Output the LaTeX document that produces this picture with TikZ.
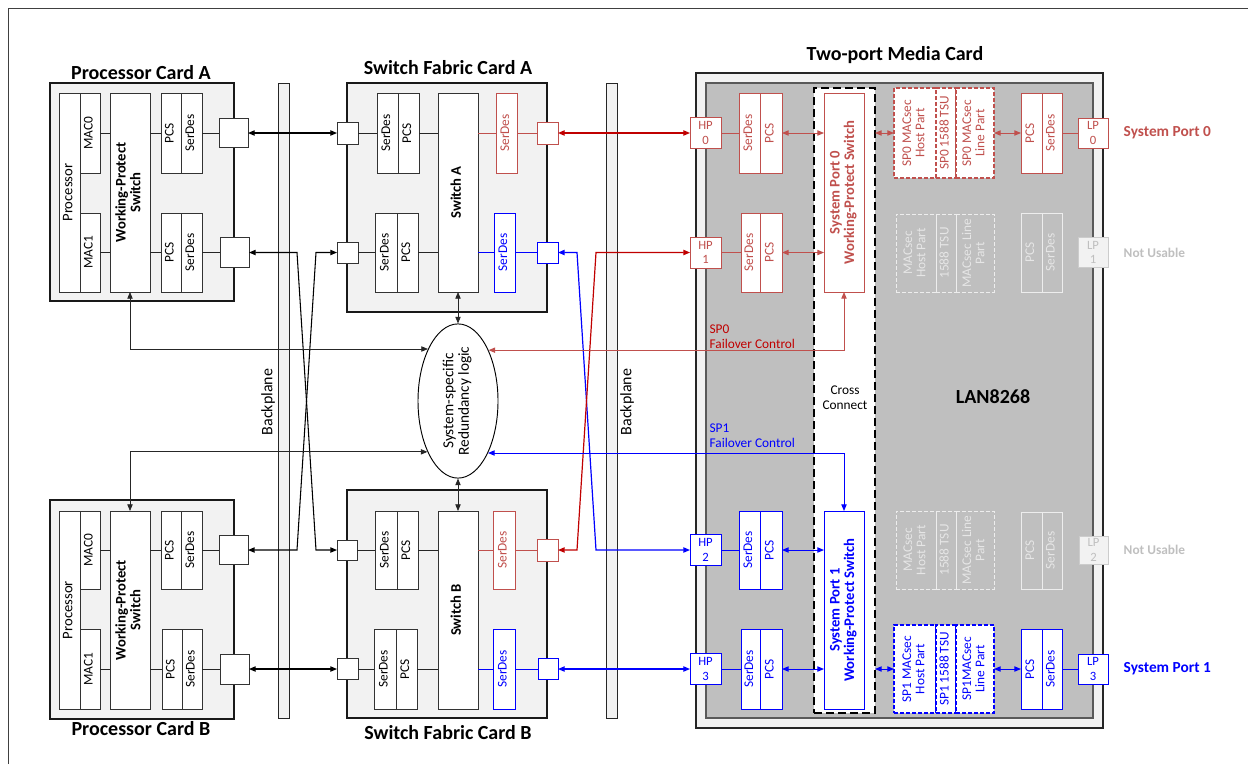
\documentclass[tikz,border=0pt]{standalone}
\usepackage{fontspec}
\setmainfont{Carlito}
\usetikzlibrary{arrows.meta,shapes.geometric}
\definecolor{rA}{HTML}{C00000}
\definecolor{rB}{HTML}{C0504D}
\definecolor{bA}{HTML}{0000FF}
\definecolor{lf}{HTML}{F2F2F2}
\definecolor{chip}{HTML}{BFBFBF}
\definecolor{ghost}{HTML}{EDEDED}
\definecolor{ghtxt}{HTML}{E6E6E6}
\renewcommand{\arraystretch}{0.9}
\newcommand{\vtext}[1]{\rotatebox{90}{\begin{tabular}{@{}c@{}}#1\end{tabular}}}
\newcommand{\mybox}[7][]{\node[inner sep=0pt,outer sep=0pt,bx,#1,minimum width={(#5-#3)*0.75pt},minimum height={(#6-#4)*0.75pt}] (#2) at ({(#3+#5)/2},{(#4+#6)/2}) {#7};}
\tikzset{
 bx/.style={draw=black!80, fill=white, line width=0.6pt, align=center, text=black},
 card/.style={draw=black!90, fill=lf, line width=1pt},
 wps/.style={font=\bfseries\fontsize{11}{12}\selectfont},
 rbx/.style={draw=rB, text=rB},
 bbx/.style={draw=bA, text=bA},
 port/.style={font=\fontsize{9.5}{11}\selectfont},
 rdash/.style={draw=rB, text=rB, dash pattern=on 3pt off 1.5pt, line width=0.9pt},
 bdash/.style={draw=bA, text=bA, dash pattern=on 3pt off 1.5pt, line width=0.9pt},
 ghd/.style={draw=ghost, text=ghtxt, fill=none, dash pattern=on 3pt off 1.5pt},
 ghs/.style={draw=ghost, text=ghtxt, fill=none},
 ghp/.style={draw=black!20, fill=lf, text=chip, font=\fontsize{9.5}{11}\selectfont},
 bpl/.style={draw=black!85, fill=lf, line width=0.7pt},
 mcard/.style={draw=black!85, fill=lf, line width=1.2pt},
 chipst/.style={draw=black!65, fill=chip, line width=0.9pt},
 ccst/.style={draw=black, fill=white, line width=2.2pt, dash pattern=on 6pt off 3pt},
 title/.style={font=\bfseries\fontsize{15}{17}\selectfont},
 proc/.style={font=\fontsize{11}{12}\selectfont},
 ln/.style={draw=black!85, line width=0.6pt},
 kl/.style={draw=black, line width=0.8pt},
 rl/.style={draw=rA, line width=0.9pt},
 bl/.style={draw=bA, line width=0.9pt},
 rl2/.style={draw=rB, line width=0.7pt},
 bl2/.style={draw=bA, line width=0.7pt},
}
\begin{document}
\begin{tikzpicture}[x=0.75pt,y=-0.75pt,>={Triangle[length=5pt,width=4pt]},font=\fontsize{10}{11}\selectfont]
\useasboundingbox (0,0) rectangle (1248,764);
\draw[black!75, line width=0.6pt] (8,764) -- (8,8) -- (1248,8);

% ---------- titles
\node[title] (tPA) at (141,73) {Processor Card A};
\node[title] (tSA) at (448,68) {Switch Fabric Card A};
\node[title] (tMC) at (895,55) {Two-port Media Card};
\node[title] (tPB) at (141,729) {Processor Card B};
\node[title] (tSB) at (448,733) {Switch Fabric Card B};

% ---------- backplanes
\mybox[bpl]{bp1}{278}{83}{289}{718}{}
\mybox[bpl]{bp2}{606}{83}{617}{718}{}
\node[rotate=90, font=\fontsize{12}{14}\selectfont] (bl1) at (268,402) {Backplane};
\node[rotate=90, font=\fontsize{12}{14}\selectfont] (bl2) at (627,402) {Backplane};

% ---------- Processor Card A
\mybox[card]{cardA}{50}{83}{234}{301}{}
\mybox[proc]{procA}{59}{93}{80}{292}{\vtext{Processor}}
\mybox{macA0}{80}{93}{100}{173}{\vtext{MAC0}}
\mybox{macA1}{80}{213}{100}{292}{\vtext{MAC1}}
\mybox[wps]{wpsA}{110}{93}{150}{292}{\vtext{Working-Protect\\Switch}}
\mybox{pcsA0}{161}{93}{181}{173}{\vtext{PCS}}
\mybox{serA0}{181}{93}{202}{173}{\vtext{SerDes}}
\mybox{pcsA1}{161}{213}{181}{292}{\vtext{PCS}}
\mybox{serA1}{181}{213}{202}{292}{\vtext{SerDes}}
\mybox{pA0}{219}{118.5}{248}{147.5}{}
\mybox{pA1}{220}{237.5}{249}{267.5}{}
\draw[ln] (macA0.east) -- (wpsA.west |- macA0.east);
\draw[ln] (wpsA.east |- pcsA0.west) -- (pcsA0.west);
\draw[ln] (serA0.east) -- (pA0.west);
\draw[ln] (macA1.east) -- (wpsA.west |- macA1.east);
\draw[ln] (wpsA.east |- pcsA1.west) -- (pcsA1.west);
\draw[ln] (serA1.east) -- (pA1.west);

% ---------- Processor Card B
\mybox[card]{cardB}{50}{500}{234}{719}{}
\mybox[proc]{procB}{59}{511}{80}{709}{\vtext{Processor}}
\mybox{macB0}{80}{511}{100}{589}{\vtext{MAC0}}
\mybox{macB1}{80}{629}{100}{709}{\vtext{MAC1}}
\mybox[wps]{wpsB}{110}{511}{150}{709}{\vtext{Working-Protect\\Switch}}
\mybox{pcsB0}{161}{511}{181}{589}{\vtext{PCS}}
\mybox{serB0}{181}{511}{202}{589}{\vtext{SerDes}}
\mybox{pcsB1}{162}{629}{182}{709}{\vtext{PCS}}
\mybox{serB1}{182}{629}{202}{709}{\vtext{SerDes}}
\mybox{pB0}{219}{535.5}{248}{564.5}{}
\mybox{pB1}{220}{654}{249}{684}{}
\draw[ln] (macB0.east) -- (wpsB.west |- macB0.east);
\draw[ln] (wpsB.east |- pcsB0.west) -- (pcsB0.west);
\draw[ln] (serB0.east) -- (pB0.west);
\draw[ln] (macB1.east) -- (wpsB.west |- macB1.east);
\draw[ln] (wpsB.east |- pcsB1.west) -- (pcsB1.west);
\draw[ln] (serB1.east) -- (pB1.west);

% ---------- Switch Fabric Card A
\mybox[card]{sfA}{347}{83}{547}{312}{}
\mybox{qA0}{337}{122}{358}{144}{}
\mybox{qA1}{337}{242}{358}{263}{}
\mybox{sdA0}{377}{93}{398}{173}{\vtext{SerDes}}
\mybox{pcA0}{398}{93}{419}{173}{\vtext{PCS}}
\mybox{sdA1}{375}{213}{397}{292}{\vtext{SerDes}}
\mybox{pcA1}{397}{213}{418}{292}{\vtext{PCS}}
\mybox[font=\bfseries\fontsize{11}{12}\selectfont]{swA}{438}{93}{478}{292}{\vtext{Switch A}}
\mybox[rbx]{rsA}{496}{93}{517}{173}{\vtext{SerDes}}
\mybox[rbx]{rpA}{537}{122}{558}{144}{}
\mybox[bbx]{bsA}{494}{213}{515}{292}{\vtext{SerDes}}
\mybox[bbx]{bpA}{537}{242}{558}{263}{}
\draw[ln] (qA0.east) -- (sdA0.west |- qA0.east);
\draw[ln] (pcA0.east) -- (swA.west |- pcA0.east);
\draw[ln] (qA1.east) -- (sdA1.west |- qA1.east);
\draw[ln] (pcA1.east) -- (swA.west |- pcA1.east);
\draw[rl2] (swA.east |- rsA.west) -- (rsA.west);
\draw[rl2] (rsA.east) -- (rpA.west);
\draw[bl2] (swA.east |- bsA.west) -- (bsA.west);
\draw[bl2] (bsA.east) -- (bpA.west);

% ---------- Switch Fabric Card B
\mybox[card]{sfB}{347}{490}{547}{718}{}
\mybox{qB0}{337}{540}{357}{560}{}
\mybox{qB1}{337}{658.5}{358}{679.5}{}
\mybox{sdB0}{375}{511}{397}{589}{\vtext{SerDes}}
\mybox{pcB0}{397}{511}{418}{589}{\vtext{PCS}}
\mybox{sdB1}{374}{629}{396}{709}{\vtext{SerDes}}
\mybox{pcB1}{396}{629}{417}{709}{\vtext{PCS}}
\mybox[font=\bfseries\fontsize{11}{12}\selectfont]{swB}{438}{511}{478}{709}{\vtext{Switch B}}
\mybox[rbx]{rsB}{493}{511}{515}{589}{\vtext{SerDes}}
\mybox[rbx]{rpB}{537}{539}{558}{561}{}
\mybox[bbx]{bsB}{493}{629}{515}{709}{\vtext{SerDes}}
\mybox[bbx]{bpB}{538}{658.5}{558}{679.5}{}
\draw[ln] (qB0.east) -- (sdB0.west |- qB0.east);
\draw[ln] (pcB0.east) -- (swB.west |- pcB0.east);
\draw[ln] (qB1.east) -- (sdB1.west |- qB1.east);
\draw[ln] (pcB1.east) -- (swB.west |- pcB1.east);
\draw[rl2] (swB.east |- rsB.west) -- (rsB.west);
\draw[rl2] (rsB.east) -- (rpB.west);
\draw[bl2] (swB.east |- bsB.west) -- (bsB.west);
\draw[bl2] (bsB.east) -- (bpB.west);

% ---------- redundancy logic
\node[ellipse, draw=black, fill=white, line width=0.7pt, minimum width=60pt, minimum height=111pt, inner sep=0pt, font=\fontsize{11.5}{13}\selectfont] (ell) at (458,401) {\vtext{System-specific\\Redundancy logic}};
\draw[ln,<->] (swA.south) -- (ell.north);
\draw[ln,<->] (ell.south) -- (swB.north);

% ---------- Media card
\mybox[mcard]{mc}{696}{73}{1103}{728}{}
\mybox[chipst]{chipb}{706}{83}{1093}{718}{}
\mybox[ccst]{cc}{814}{88}{875}{713}{}
\node[align=center] (ccl) at (845,398) {Cross\\Connect};
\node[font=\bfseries\fontsize{15}{17}\selectfont] (lan) at (993,397) {LAN8268};

\mybox[rbx,port]{hp0}{690}{117.5}{721}{148.5}{HP\\0}
\mybox[rbx,port]{hp1}{690}{237}{721}{268}{HP\\1}
\mybox[bbx,port]{hp2}{690}{534.5}{721}{565.5}{HP\\2}
\mybox[bbx,port]{hp3}{690}{653.5}{721}{684.5}{HP\\3}
\mybox[rbx]{sd0}{739}{93}{760}{173}{\vtext{SerDes}}
\mybox[rbx]{pc0}{760}{93}{782}{173}{\vtext{PCS}}
\mybox[rbx]{sd1}{741}{213}{760}{292}{\vtext{SerDes}}
\mybox[rbx]{pc1}{760}{213}{782}{292}{\vtext{PCS}}
\mybox[bbx]{sd2}{739}{511}{760}{589}{\vtext{SerDes}}
\mybox[bbx]{pc2}{760}{511}{782}{589}{\vtext{PCS}}
\mybox[bbx]{sd3}{741}{629}{760}{709}{\vtext{SerDes}}
\mybox[bbx]{pc3}{760}{629}{782}{709}{\vtext{PCS}}
\mybox[rbx,wps]{spw0}{824}{93}{864}{292}{\vtext{System Port 0\\Working-Protect Switch}}
\mybox[bbx,wps]{spw1}{824}{511}{864}{709}{\vtext{System Port 1\\Working-Protect Switch}}

\mybox[rdash]{m0h}{894}{88}{936}{178}{\vtext{SP0 MACsec\\Host Part}}
\mybox[rdash]{m0t}{936}{88}{956}{178}{\vtext{SP0 1588 TSU}}
\mybox[rdash]{m0l}{956}{88}{994}{178}{\vtext{SP0 MACsec\\Line Part}}
\mybox[rbx]{lpc0}{1021}{93}{1042}{173}{\vtext{PCS}}
\mybox[rbx]{lsd0}{1042}{93}{1062}{173}{\vtext{SerDes}}
\mybox[rbx,port]{lp0}{1078}{118}{1108}{148}{LP\\0}

\mybox[ghd]{m1h}{896}{214}{936}{292}{\vtext{MACsec\\Host Part}}
\mybox[ghd]{m1t}{936}{214}{956}{292}{\vtext{1588 TSU}}
\mybox[ghd]{m1l}{956}{214}{994}{292}{\vtext{MACsec Line\\Part}}
\mybox[ghs]{lpc1}{1021}{213}{1042}{292}{\vtext{PCS}}
\mybox[ghs]{lsd1}{1042}{213}{1062}{292}{\vtext{SerDes}}
\mybox[ghp]{lp1}{1078}{237.5}{1108}{267.5}{LP\\1}

\mybox[ghd]{m2h}{896}{511}{936}{589}{\vtext{MACsec\\Host Part}}
\mybox[ghd]{m2t}{936}{511}{956}{589}{\vtext{1588 TSU}}
\mybox[ghd]{m2l}{956}{511}{994}{589}{\vtext{MACsec Line\\Part}}
\mybox[ghs]{lpc2}{1021}{512}{1042}{589}{\vtext{PCS}}
\mybox[ghs]{lsd2}{1042}{512}{1062}{589}{\vtext{SerDes}}
\mybox[ghp]{lp2}{1079}{536}{1108}{564}{LP\\2}

\mybox[bdash]{m3h}{894}{625}{936}{713}{\vtext{SP1 MACsec\\Host Part}}
\mybox[bdash]{m3t}{936}{625}{956}{713}{\vtext{SP1 1588 TSU}}
\mybox[bdash]{m3l}{956}{625}{994}{713}{\vtext{SP1MACsec\\Line Part}}
\mybox[bbx]{lpc3}{1021}{629}{1042}{709}{\vtext{PCS}}
\mybox[bbx]{lsd3}{1042}{629}{1062}{709}{\vtext{SerDes}}
\mybox[bbx,port]{lp3}{1078}{654}{1108}{684}{LP\\3}

\node[anchor=west, font=\bfseries\fontsize{11.5}{13}\selectfont, text=rB] (sp0l) at (1119,133) {System Port 0};
\node[anchor=west, font=\bfseries\fontsize{10}{12}\selectfont, text=chip] (nu1) at (1119,252.5) {Not Usable};
\node[anchor=west, font=\bfseries\fontsize{10}{12}\selectfont, text=chip] (nu2) at (1119,550) {Not Usable};
\node[anchor=west, font=\bfseries\fontsize{11.5}{13}\selectfont, text=bA] (sp1l) at (1119,669) {System Port 1};

% media connectors
\draw[rl2] (hp0.east) -- (sd0.west |- hp0.east);
\draw[rl2,<->] (pc0.east) -- (spw0.west |- pc0.east);
\draw[rl2,<->] (cc.east |- m0h.west) -- (m0h.west);
\draw[rl2,<->] (m0l.east) -- (lpc0.west |- m0l.east);
\draw[rl2] (lsd0.east) -- (lp0.west);
\draw[rl2] (hp1.east) -- (sd1.west |- hp1.east);
\draw[rl2,<->] (pc1.east) -- (spw0.west |- pc1.east);
\draw[bl2] (hp2.east) -- (sd2.west |- hp2.east);
\draw[bl2,<->] (pc2.east) -- (spw1.west |- pc2.east);
\draw[bl2] (hp3.east) -- (sd3.west |- hp3.east);
\draw[bl2,<->] (pc3.east) -- (spw1.west |- pc3.east);
\draw[bl2,<->] (cc.east |- m3h.west) -- (m3h.west);
\draw[bl2,<->] (m3l.east) -- (lpc3.west |- m3l.east);
\draw[bl2] (lsd3.east) -- (lp3.west);

% ---------- backplane connectors
\draw[kl,<->] (pA0.east) -- (qA0.west);
\draw[kl,<->] (pA1.east) -- (297,252.5) -- (316,550) -- (qB0.west);
\draw[kl,<->] (pB0.east) -- (297,550) -- (316,252.5) -- (qA1.west);
\draw[kl,<->] (pB1.east) -- (qB1.west);
\draw[rl,<->] (rpA.east) -- (hp0.west);
\draw[bl,<->] (bpA.east) -- (577,252.5) -- (596,550) -- (hp2.west);
\draw[rl,<->] (rpB.east) -- (577,550) -- (596,252.5) -- (hp1.west);
\draw[bl,<->] (bpB.east) -- (hp3.west);

% ---------- failover control
\draw[ln,<->] (wpsA.south) |- (ell.120.54);
\draw[ln,<->] (wpsB.north) |- (ell.239.46);
\draw[rl2,<->] (spw0.south) |- (ell.59.46);
\draw[bl2,<->] (spw1.north) |- (ell.300.54);
\node[anchor=south west, align=left, text=rA, inner sep=1pt] (f0) at (708,350) {SP0\\Failover Control};
\node[anchor=south west, align=left, text=bA, inner sep=1pt] (f1) at (708,449) {SP1\\Failover Control};
\end{tikzpicture}
\end{document}
